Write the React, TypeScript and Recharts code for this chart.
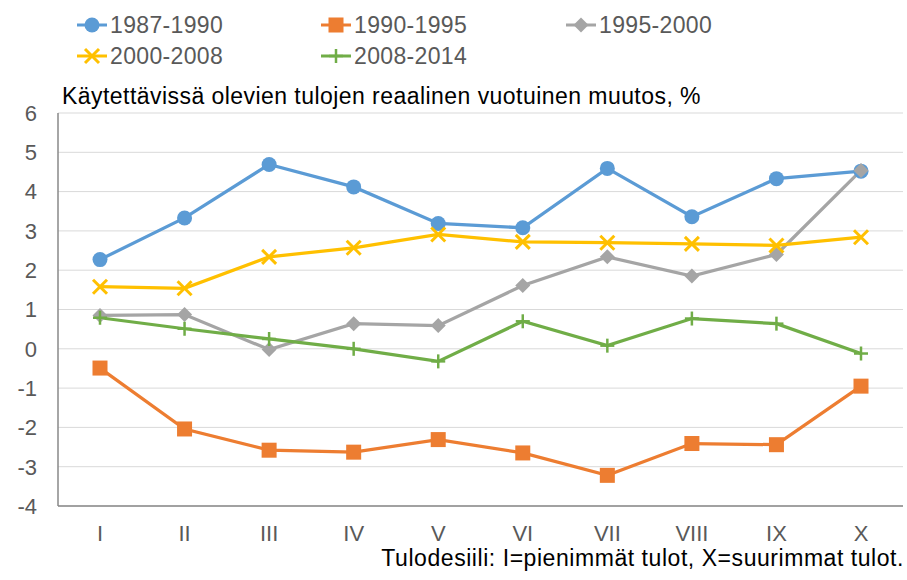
import React from 'react';
import { LineChart, Line, XAxis, YAxis, CartesianGrid, Legend } from 'recharts';

const categories = ['I', 'II', 'III', 'IV', 'V', 'VI', 'VII', 'VIII', 'IX', 'X'];
const s1987_1990 = [2.27, 3.33, 4.69, 4.12, 3.19, 3.08, 4.59, 3.36, 4.33, 4.52];
const s1990_1995 = [-0.49, -2.04, -2.58, -2.63, -2.31, -2.65, -3.22, -2.41, -2.44, -0.95];
const s1995_2000 = [0.85, 0.87, -0.02, 0.64, 0.59, 1.61, 2.34, 1.85, 2.4, 4.54];
const s2000_2008 = [1.58, 1.54, 2.34, 2.57, 2.91, 2.72, 2.7, 2.67, 2.63, 2.84];
const s2008_2014 = [0.79, 0.51, 0.25, 0.0, -0.32, 0.7, 0.08, 0.77, 0.64, -0.12];
const yTicks = [-4, -3, -2, -1, 0, 1, 2, 3, 4, 5, 6];

const title = 'Käytettävissä olevien tulojen reaalinen vuotuinen muutos, %';
const xLabel = 'Tulodesiili: I=pienimmät tulot, X=suurimmat tulot.';

type MarkerKind = 'circle' | 'square' | 'diamond' | 'x' | 'plus';

const series: { key: string; name: string; color: string; marker: MarkerKind; values: number[] }[] = [
  { key: 'a', name: '1987-1990', color: '#5B9BD5', marker: 'circle', values: s1987_1990 },
  { key: 'b', name: '1990-1995', color: '#ED7D31', marker: 'square', values: s1990_1995 },
  { key: 'c', name: '1995-2000', color: '#A5A5A5', marker: 'diamond', values: s1995_2000 },
  { key: 'd', name: '2000-2008', color: '#FFC000', marker: 'x', values: s2000_2008 },
  { key: 'e', name: '2008-2014', color: '#70AD47', marker: 'plus', values: s2008_2014 },
];

const data = categories.map((c, i) => {
  const row: Record<string, any> = { cat: c };
  series.forEach((s) => {
    row[s.key] = s.values[i];
  });
  return row;
});

const FONT = '"Liberation Sans", Arial, sans-serif';
const BORDER = '#898989';

function Marker({ kind, cx, cy, color }: { kind: MarkerKind; cx: number; cy: number; color: string }) {
  if (cx == null || cy == null || isNaN(cx) || isNaN(cy)) return null;
  switch (kind) {
    case 'circle':
      return <circle cx={cx} cy={cy} r={7.5} fill={color} />;
    case 'square':
      return <rect x={cx - 7.5} y={cy - 7.5} width={15} height={15} fill={color} />;
    case 'diamond':
      return <polygon points={`${cx},${cy - 7.5} ${cx + 7.5},${cy} ${cx},${cy + 7.5} ${cx - 7.5},${cy}`} fill={color} />;
    case 'x':
      return (
        <g stroke={color} strokeWidth={3}>
          <line x1={cx - 7} y1={cy - 7} x2={cx + 7} y2={cy + 7} />
          <line x1={cx - 7} y1={cy + 7} x2={cx + 7} y2={cy - 7} />
        </g>
      );
    case 'plus':
      return (
        <g stroke={color} strokeWidth={2.5}>
          <line x1={cx - 7} y1={cy} x2={cx + 7} y2={cy} />
          <line x1={cx} y1={cy - 7} x2={cx} y2={cy + 7} />
        </g>
      );
  }
  return null;
}

const legendPos = [
  { left: 77, top: 10 },
  { left: 321, top: 10 },
  { left: 566, top: 10 },
  { left: 77, top: 41 },
  { left: 321, top: 41 },
];

function LegendContent() {
  return (
    <div style={{ position: 'relative', width: 907, height: 80 }}>
      {series.map((s, i) => (
        <div
          key={s.key}
          style={{
            position: 'absolute',
            left: legendPos[i].left,
            top: legendPos[i].top,
            display: 'flex',
            alignItems: 'center',
            height: 30,
            fontFamily: FONT,
            fontSize: 23,
            letterSpacing: 0.35,
            color: '#595959',
            whiteSpace: 'nowrap',
          }}
        >
          <svg width={33} height={30} style={{ display: 'block' }}>
            <line x1={0} y1={15} x2={30} y2={15} stroke={s.color} strokeWidth={3} />
            <Marker kind={s.marker} cx={15} cy={15} color={s.color} />
          </svg>
          <span>{s.name}</span>
        </div>
      ))}
    </div>
  );
}

export default function App() {
  return (
    <div style={{ position: 'absolute', left: 0, top: 0, width: 907, height: 580, background: '#fff' }}>
      <LineChart width={907} height={580} data={data} margin={{ top: 113, right: 4, bottom: 44, left: 0 }}>
        <CartesianGrid vertical={false} stroke="#D9D9D9" strokeWidth={1} yAxisId="left" />
        <XAxis
          dataKey="cat"
          height={30}
          padding={{ left: 42, right: 42 }}
          axisLine={{ stroke: BORDER, strokeWidth: 1.5 }}
          tickLine={false}
          tickSize={0}
          tickMargin={19}
          interval={0}
          tick={{ fill: '#595959', fontSize: 22, fontFamily: FONT }}
        />
        <XAxis
          xAxisId="top"
          dataKey="cat"
          orientation="top"
          height={0}
          axisLine={{ stroke: BORDER, strokeWidth: 1.5 }}
          tick={false}
          tickLine={false}
        />
        <YAxis
          yAxisId="left"
          width={58}
          domain={[-4, 6]}
          ticks={yTicks}
          interval={0}
          axisLine={{ stroke: BORDER, strokeWidth: 1.5 }}
          tickLine={false}
          tickSize={0}
          tickMargin={21}
          tick={{ fill: '#595959', fontSize: 22, fontFamily: FONT }}
        />
        <YAxis
          yAxisId="right"
          orientation="right"
          width={0}
          domain={[-4, 6]}
          ticks={yTicks}
          axisLine={{ stroke: BORDER, strokeWidth: 1.5 }}
          tick={false}
          tickLine={false}
        />
        <Legend
          verticalAlign="middle"
          layout="horizontal"
          wrapperStyle={{ position: 'absolute', top: 0, left: 0, width: 907 }}
          content={() => <LegendContent />}
        />
        {series.map((s) => (
          <Line
            key={s.key}
            yAxisId="left"
            dataKey={s.key}
            name={s.name}
            stroke={s.color}
            strokeWidth={3.25}
            isAnimationActive={false}
            dot={(p: any) => <Marker key={`${s.key}-${p.index}`} kind={s.marker} cx={p.cx} cy={p.cy} color={s.color} />}
            activeDot={false}
          />
        ))}
      </LineChart>
      <div
        style={{
          position: 'absolute',
          left: 62,
          top: 83,
          fontFamily: FONT,
          fontSize: 23,
          letterSpacing: 0.45,
          color: '#000',
          whiteSpace: 'nowrap',
          lineHeight: '26px',
        }}
      >
        {title}
      </div>
      <div
        style={{
          position: 'absolute',
          right: 3,
          top: 547,
          fontFamily: FONT,
          fontSize: 23,
          letterSpacing: 0.55,
          color: '#000',
          whiteSpace: 'nowrap',
          lineHeight: '23px',
        }}
      >
        {xLabel}
      </div>
    </div>
  );
}
